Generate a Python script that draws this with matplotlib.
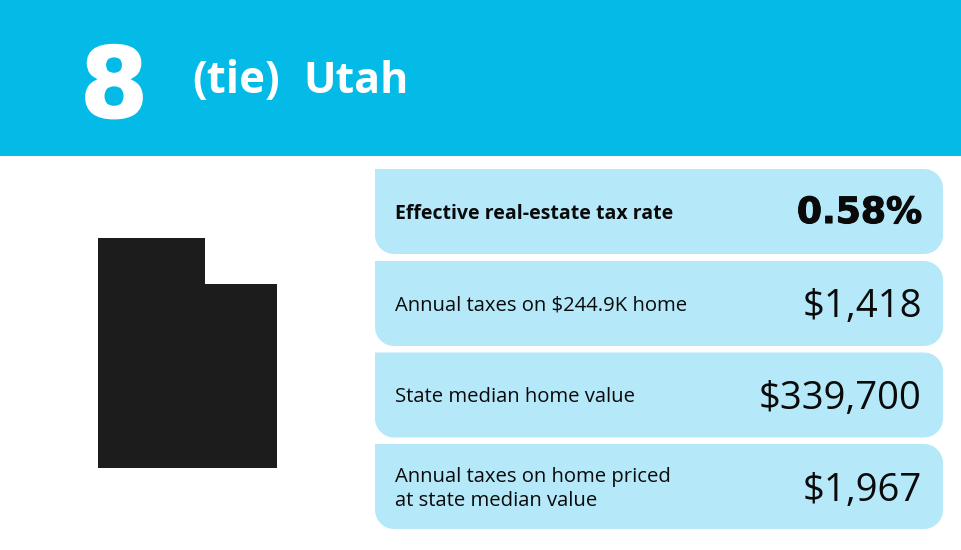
import matplotlib
matplotlib.use("Agg")
import matplotlib.pyplot as plt
import matplotlib.patheffects as pe
from matplotlib.patches import Rectangle, PathPatch, Polygon
from matplotlib.path import Path

W, H = 962, 550
BLUE = "#04bbe7"
LIGHT = "#b5e9f9"
DARK = "#1c1c1c"

rank = "8"
tie_label = "(tie)"
state = "Utah"
row_labels = [
    "Effective real-estate tax rate",
    "Annual taxes on $244.9K home",
    "State median home value",
    "Annual taxes on home priced\nat state median value",
]
row_values = ["0.58%", "$1,418", "$339,700", "$1,967"]
row_tops = [169, 261, 352.5, 444]
utah_x = [98, 205, 205, 277, 277, 98]
utah_y = [238, 238, 284, 284, 468, 468]


def card_path(x0, y0, x1, y1, r):
    # square top-left corner, other three rounded (y axis points down)
    k = r * 0.45
    verts = [
        (x0, y0), (x1 - r, y0),
        (x1 - k, y0), (x1, y0 + k), (x1, y0 + r),
        (x1, y1 - r),
        (x1, y1 - k), (x1 - k, y1), (x1 - r, y1),
        (x0 + r, y1),
        (x0 + k, y1), (x0, y1 - k), (x0, y1 - r),
        (x0, y0),
    ]
    codes = [Path.MOVETO, Path.LINETO,
             Path.CURVE4, Path.CURVE4, Path.CURVE4,
             Path.LINETO,
             Path.CURVE4, Path.CURVE4, Path.CURVE4,
             Path.LINETO,
             Path.CURVE4, Path.CURVE4, Path.CURVE4,
             Path.CLOSEPOLY]
    return Path(verts, codes)


fig = plt.figure(figsize=(W / 100, H / 100), dpi=100)
ax = fig.add_axes([0, 0, 1, 1])
ax.set_xlim(0, W)
ax.set_ylim(H, 0)
ax.axis("off")

# header band
ax.add_patch(Rectangle((0, 0), W, 156, color=BLUE, lw=0))
t = ax.text(114, 117, rank, color="white", fontsize=70, fontweight="bold",
            family="DejaVu Sans", ha="center", va="baseline")
t.set_path_effects([pe.withStroke(linewidth=1.5, foreground="white")])
ax.text(192.5, 81.5, tie_label, color="white", fontsize=31.5, fontweight="bold",
        family="Open Sans", ha="left", va="center")
ax.text(303, 81.5, state, color="white", fontsize=31, fontweight="bold",
        family="Open Sans", ha="left", va="center")

# state shape
ax.add_patch(Polygon(list(zip(utah_x, utah_y)), closed=True, color=DARK, lw=0))

# stat cards
for i, (top, label, value) in enumerate(zip(row_tops, row_labels, row_values)):
    ax.add_patch(PathPatch(card_path(375, top, 943, top + 85, 19), fc=LIGHT, ec="none"))
    mid = top + 42.5
    if i == 0:
        ax.text(395, mid + 2.5, label, fontsize=14, color="#0a0a0a", family="Open Sans",
                fontweight="bold", ha="left", va="center")
        t = ax.text(922, mid + 1.5, value, fontsize=26, color="#0a0a0a", family="DejaVu Sans",
                    fontweight="bold", ha="right", va="center")
        t.set_path_effects([pe.withStroke(linewidth=0.8, foreground="#0a0a0a")])
    else:
        ax.text(395, mid + 2.5, label, fontsize=14.6, color="#0a0a0a", family="Open Sans",
                ha="left", va="center", linespacing=1.25)
        ax.text(922, mid + 4, value, fontsize=27.5, color="#0a0a0a", family="Open Sans",
                ha="right", va="center")

fig.savefig("out.png", dpi=100)
